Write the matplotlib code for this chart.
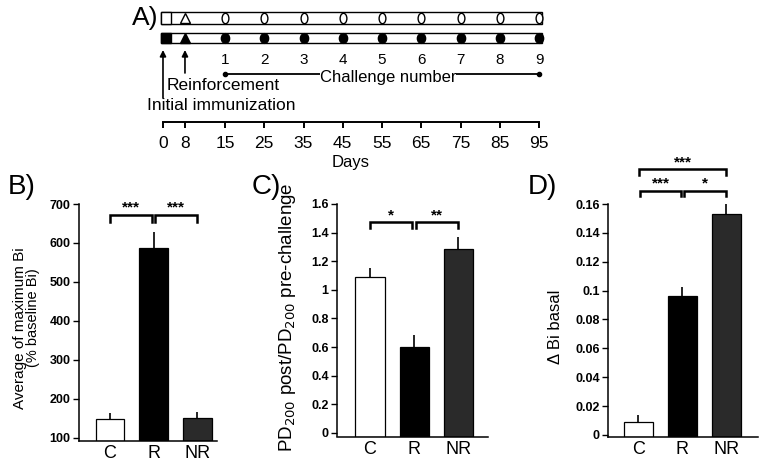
import numpy as np
import matplotlib
matplotlib.use("Agg")
import matplotlib.pyplot as plt
from matplotlib.patches import Rectangle
from matplotlib.markers import MarkerStyle
from matplotlib.transforms import Affine2D

plt.rcParams['font.family'] = ['Liberation Sans', 'DejaVu Sans']

# ---- data ----
groups = ['C', 'R', 'NR']
bar_colors = ['white', 'black', '#2a2a2a']

days = [0, 8, 15, 25, 35, 45, 55, 65, 75, 85, 95]
challenge_days = [15, 25, 35, 45, 55, 65, 75, 85, 95]
challenge_num = [1, 2, 3, 4, 5, 6, 7, 8, 9]

bi_max = [148, 588, 151]          # B) % baseline Bi
bi_max_err = [16, 39, 16]
pd_ratio = [1.09, 0.60, 1.287]    # C) PD200 post/pre
pd_ratio_err = [0.06, 0.083, 0.085]
bi_basal = [0.0093, 0.0963, 0.1531]   # D) delta Bi basal
bi_basal_err = [0.0045, 0.006, 0.0085]

W, H = 760, 461
fig = plt.figure(figsize=(W / 100, H / 100), dpi=100)


def px_axes(left, top, right, bottom):
    return fig.add_axes([left / W, 1 - bottom / H, (right - left) / W, (bottom - top) / H])


# timeline day -> horizontal position (the drawing is not to scale)
def day_x(d):
    return np.interp(d, [0, 8, 15, 95], [0, 0.56, 1.58, 9.58])


# ---------------- panel A ----------------
ax = px_axes(150, 0, 550, 175)
ax.set_xlim(-0.331, 9.86)
ax.set_ylim(175, 0)
ax.axis('off')

x0, x95 = day_x(0) - 0.05, day_x(95) + 0.08
ax.add_patch(Rectangle((x0, 12), x95 - x0, 12, fc='white', ec='black', lw=1))
ax.add_patch(Rectangle((x0, 12), 0.255, 12, fc='white', ec='black', lw=1))
ax.add_patch(Rectangle((x0, 33), x95 - x0, 10.5, fc='white', ec='black', lw=1))
ax.add_patch(Rectangle((x0, 33), 0.255, 10.5, fc='black', ec='black', lw=1))

ax.plot(day_x(8), 18, marker='^', ms=6.5, mfc='white', mec='black', mew=1)
ax.plot(day_x(8), 38.5, marker='^', ms=6.5, mfc='black', mec='black')
oval = MarkerStyle('o', transform=Affine2D().scale(0.65, 1.0))
ax.plot(day_x(challenge_days), [18] * 9, ls='none', marker=oval, ms=7.5,
        mfc='white', mec='black', mew=1)
ax.plot(day_x(challenge_days), [38.5] * 9, ls='none',
        marker=MarkerStyle('o', transform=Affine2D().scale(0.85, 1.0)), ms=7, color='black')

arrow = dict(arrowstyle='-|>', lw=1.2, color='black', mutation_scale=9, shrinkA=0, shrinkB=0)
ax.annotate('', xy=(day_x(0), 50), xytext=(day_x(0), 98), arrowprops=arrow)
ax.annotate('', xy=(day_x(8), 50), xytext=(day_x(8), 73), arrowprops=arrow)

for d, n in zip(challenge_days, challenge_num):
    ax.text(day_x(d), 60, str(n), ha='center', va='center', fontsize=11)

cx = day_x([challenge_days[0], challenge_days[-1]])
ax.plot(cx, [74, 74], color='black', lw=1.3, marker='o', ms=3)
ax.text(cx.mean() + 0.15, 77.5, 'Challenge number', ha='center', va='center', fontsize=12,
        bbox=dict(fc='white', ec='none', pad=0))
ax.text(0.1, 85, 'Reinforcement', ha='left', va='center', fontsize=12.5)
ax.text(-0.41, 106, 'Initial immunization', ha='left', va='center', fontsize=12.5)

ax.plot([day_x(0), day_x(95)], [122, 122], color='black', lw=1.4)
ax.vlines(day_x(days), 122, 128, color='black', lw=1.4)
for d in days:
    ax.text(day_x(d), 143, str(d), ha='center', va='center', fontsize=12.5)
ax.text((day_x(0) + day_x(95)) / 2, 163, 'Days', ha='center', va='center', fontsize=12)


# ---------------- bar panels ----------------
def bar_panel(rect, xlim, ylim, ticks, vals, errs):
    a = px_axes(*rect)
    floor = ylim[0]
    xs = np.arange(len(groups))
    a.bar(xs, np.array(vals) - floor, bottom=floor, width=0.66, color=bar_colors,
          edgecolor='black', linewidth=0.9, zorder=2)
    a.errorbar(xs, vals, yerr=[np.zeros(len(vals)), errs], fmt='none', ecolor='black',
               elinewidth=1.2, capsize=0, zorder=1)
    a.set_xlim(*xlim)
    a.set_ylim(*ylim)
    a.set_yticks(ticks)
    a.set_yticklabels(['{:g}'.format(t) for t in ticks], fontsize=9, fontweight='bold')
    a.set_xticks(xs)
    a.set_xticklabels(groups, fontsize=13)
    a.tick_params(axis='x', length=0, pad=3)
    a.tick_params(axis='y', length=4, width=1, pad=2)
    for s in ['top', 'right']:
        a.spines[s].set_visible(False)
    for s in ['left', 'bottom']:
        a.spines[s].set_linewidth(1.1)
    return a


def bracket(a, xa, xb, y, h, label):
    a.plot([xa, xa, xb, xb], [y - h, y, y, y - h], color='black', lw=1.8, clip_on=False,
           solid_joinstyle='miter')
    a.annotate(label, xy=((xa + xb) / 2, y), xytext=(0, 0), textcoords='offset points',
               ha='center', va='bottom', fontsize=11, fontweight='bold',
               annotation_clip=False)


axb = bar_panel((79, 204, 217, 441), (-0.71, 2.45), (92.3, 700), range(100, 701, 100),
                bi_max, bi_max_err)
bracket(axb, 0, 0.96, 672, 18, '***')
bracket(axb, 1.04, 2, 672, 18, '***')

axc = bar_panel((337, 204, 488, 436.5), (-0.75, 2.68), (-0.0245, 1.6),
                np.round(np.arange(0, 1.61, 0.2), 1), pd_ratio, pd_ratio_err)
bracket(axc, 0, 0.96, 1.474, 0.041, '*')
bracket(axc, 1.04, 2, 1.474, 0.041, '**')

axd = bar_panel((608, 204, 758, 437), (-0.69, 2.72), (-0.0014, 0.16),
                np.round(np.arange(0, 0.161, 0.02), 2), bi_basal, bi_basal_err)
bracket(axd, 0.04, 0.97, 0.1692, 0.0037, '***')
bracket(axd, 1.03, 2, 0.1692, 0.0037, '*')
bracket(axd, 0.02, 2, 0.1842, 0.0042, '***')

# axis titles
fig.text(20 / W, 1 - 328 / H, 'Average of maximum Bi', rotation=90, ha='center', va='center',
         fontsize=11)
fig.text(33 / W, 1 - 318 / H, '(% baseline Bi)', rotation=90, ha='center', va='center',
         fontsize=10.5)
fig.text(288 / W, 1 - 317 / H, 'PD$_{200}$ post/PD$_{200}$ pre-challenge', rotation=90,
         ha='center', va='center', fontsize=13.5)
fig.text(555 / W, 1 - 327 / H, '\u0394 Bi basal', rotation=90, ha='center', va='center',
         fontsize=12)

# panel letters
fig.text(158 / W, 1 - 18 / H, 'A)', ha='right', va='center', fontsize=19)
for lab, x, y in [('B)', 8, 187), ('C)', 252, 187), ('D)', 528, 187)]:
    fig.text(x / W, 1 - y / H, lab, ha='left', va='center', fontsize=20)

fig.savefig('out.png', dpi=100)
